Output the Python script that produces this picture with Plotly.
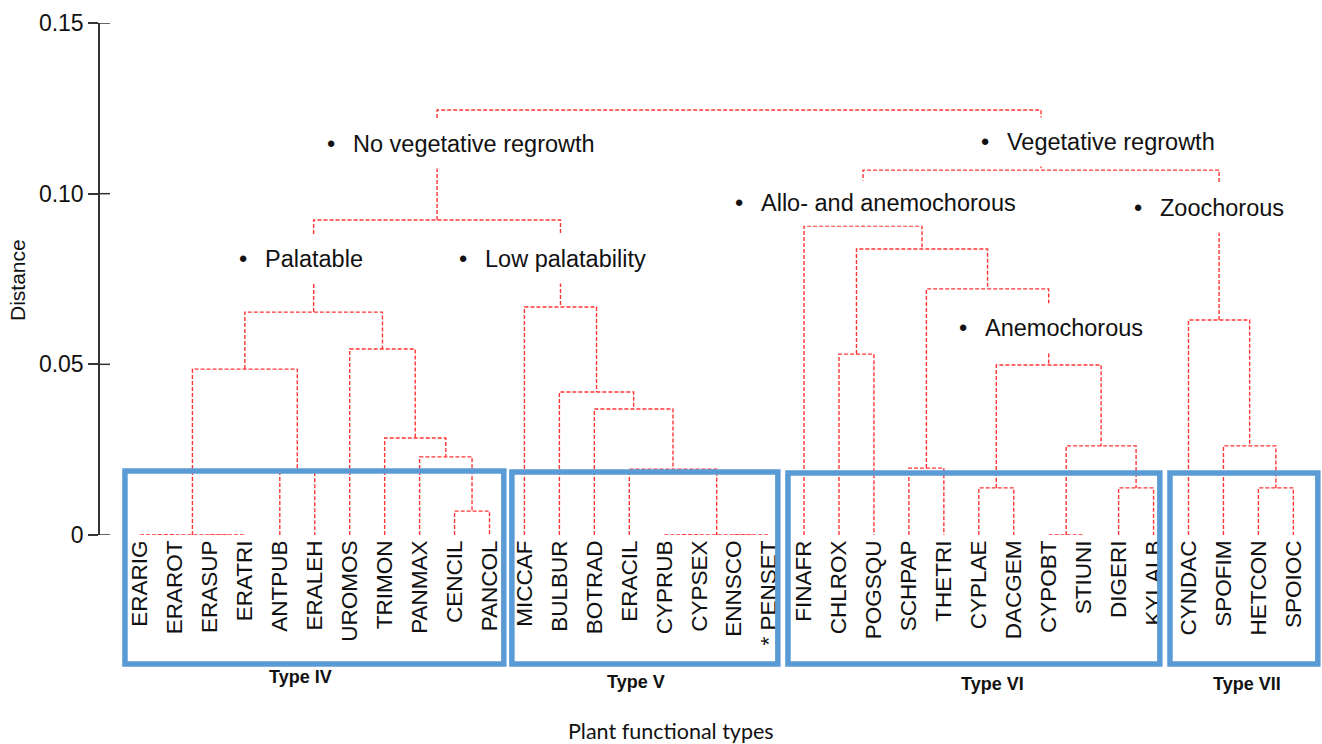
import plotly.graph_objects as go

# Leaf order along the x axis
leaves = [
    "ERARIG", "ERAROT", "ERASUP", "ERATRI", "ANTPUB", "ERALEH", "UROMOS",
    "TRIMON", "PANMAX", "CENCIL", "PANCOL",
    "MICCAF", "BULBUR", "BOTRAD", "ERACIL", "CYPRUB", "CYPSEX", "ENNSCO", "PENSET",
    "FINAFR", "CHLROX", "POGSQU", "SCHPAP", "THETRI", "CYPLAE", "DACGEM",
    "CYPOBT", "STIUNI", "DIGERI", "KYLALB",
    "CYNDAC", "SPOFIM", "HETCON", "SPOIOC",
]
leaf_labels = [("* " + n if n == "PENSET" else n) for n in leaves]

# Agglomeration steps: (cluster name, left child, right child, merge distance)
merges = [
    ("a1", "ERARIG", "ERAROT", 0.0),
    ("a2", "ERASUP", "ERATRI", 0.0),
    ("a", "a1", "a2", 0.0),
    ("b", "ANTPUB", "ERALEH", 0.0190),
    ("ab", "a", "b", 0.0486),
    ("c1", "CENCIL", "PANCOL", 0.0070),
    ("c2", "PANMAX", "c1", 0.0229),
    ("c3", "TRIMON", "c2", 0.0284),
    ("c4", "UROMOS", "c3", 0.0545),
    ("IV", "ab", "c4", 0.0653),
    ("d1", "CYPRUB", "CYPSEX", 0.0),
    ("d2", "ENNSCO", "PENSET", 0.0),
    ("d3", "d1", "d2", 0.0),
    ("d4", "ERACIL", "d3", 0.0193),
    ("d5", "BOTRAD", "d4", 0.0369),
    ("d6", "BULBUR", "d5", 0.0419),
    ("V", "MICCAF", "d6", 0.0668),
    ("noveg", "IV", "V", 0.0923),
    ("e1", "CHLROX", "POGSQU", 0.0530),
    ("e2", "SCHPAP", "THETRI", 0.0196),
    ("e3", "CYPLAE", "DACGEM", 0.0138),
    ("e4", "CYPOBT", "STIUNI", 0.0),
    ("e5", "DIGERI", "KYLALB", 0.0138),
    ("e6", "e4", "e5", 0.0261),
    ("anemo", "e3", "e6", 0.0498),
    ("e7", "e2", "anemo", 0.0721),
    ("e8", "e1", "e7", 0.0838),
    ("VI", "FINAFR", "e8", 0.0905),
    ("f1", "HETCON", "SPOIOC", 0.0138),
    ("f2", "SPOFIM", "f1", 0.0261),
    ("VII", "CYNDAC", "f2", 0.0630),
    ("veg", "VI", "VII", 0.1069),
    ("root", "noveg", "veg", 0.1245),
]

# Functional-type groups (first leaf, last leaf, label)
groups = [
    ("ERARIG", "PANCOL", "Type IV"),
    ("MICCAF", "PENSET", "Type V"),
    ("FINAFR", "KYLALB", "Type VI"),
    ("CYNDAC", "SPOIOC", "Type VII"),
]

# Branch annotations (text, node)
branch_notes = [
    ("No vegetative regrowth", "noveg"),
    ("Palatable", "IV"),
    ("Low palatability", "V"),
    ("Vegetative regrowth", "veg"),
    ("Allo- and anemochorous", "VI"),
    ("Zoochorous", "VII"),
    ("Anemochorous", "anemo"),
]

y_ticks = [0, 0.05, 0.10, 0.15]
y_ticktext = ["0", "0.05", "0.10", "0.15"]

# ---- build the dendrogram polyline ----
pos = {n: i for i, n in enumerate(leaves)}
hgt = {n: 0.0 for n in leaves}
xs, ys = [], []
for name, left, right, h in merges:
    xl, xr = pos[left], pos[right]
    xs += [xl, xl, xr, xr, None]
    ys += [hgt[left], h, h, hgt[right], None]
    pos[name] = (xl + xr) / 2
    hgt[name] = h

FONT = "Arial, Liberation Sans, sans-serif"
PX_L, PX_R, PX_T, PX_B = 100, 1322, 23, 535


def fx(px):
    return (px - PX_L) / (PX_R - PX_L)


def fy(py):
    return (PX_B - py) / (PX_B - PX_T)


fig = go.Figure()
fig.add_trace(go.Scatter(
    x=xs, y=ys, mode="lines",
    line=dict(color="#ff3535", width=1.4, dash="4px,2px"),
    hoverinfo="skip", showlegend=False,
))

# group frames: (left pad, right pad) in leaf units, top edge px, label centre px
frame_pad = {"Type IV": (-0.43, 0.41), "Type V": (-0.36, 0.25),
             "Type VI": (-0.46, 0.18), "Type VII": (-0.53, 0.70)}
frame_top = {"Type IV": 471, "Type V": 472, "Type VI": 473, "Type VII": 473}
label_xy = {"Type IV": (300, 677), "Type V": (636, 682),
            "Type VI": (992, 684), "Type VII": (1247, 684)}
shapes = []
annotations = []
for first, last, label in groups:
    pl, pr = frame_pad[label]
    x0, x1 = pos[first] + pl, pos[last] + pr
    shapes.append(dict(
        type="rect", xref="x", yref="paper", x0=x0, x1=x1,
        y0=fy(664), y1=fy(frame_top[label]),
        line=dict(color="#5b9bd5", width=5.5), layer="above",
    ))
    lx, ly = label_xy[label]
    annotations.append(dict(
        x=fx(lx), y=fy(ly), xref="paper", yref="paper",
        text="<b>%s</b>" % label, showarrow=False,
        font=dict(family=FONT, size=18, color="#111"),
        xanchor="center", yanchor="middle",
    ))

# inner half of the crossing y ticks
for v in y_ticks:
    shapes.append(dict(
        type="line", xref="paper", xsizemode="pixel", xanchor=0,
        x0=0, x1=10, yref="y", y0=v, y1=v,
        line=dict(color="#333", width=1.5), layer="above",
    ))

# branch labels, with a white backing that interrupts the branch lines
# (left edge of the bullet, vertical centre, backing height) in pixels
note_px = {
    "No vegetative regrowth": (326, 144, 48),
    "Palatable": (238, 259, 48),
    "Low palatability": (458, 259, 48),
    "Vegetative regrowth": (980, 142, 48),
    "Allo- and anemochorous": (734, 203, 44),
    "Zoochorous": (1133, 208, 48),
    "Anemochorous": (958, 328, 48),
}
for text, node in branch_notes:
    px, py, hbox = note_px[text]
    annotations.append(dict(
        x=fx(px), y=fy(py), xref="paper", yref="paper",
        text="\u2022\u00a0\u00a0\u2009" + text, showarrow=False,
        font=dict(family=FONT, size=23.5, color="#111"),
        xanchor="left", yanchor="middle", bgcolor="white",
        height=hbox, valign="middle", borderpad=0,
    ))

annotations.append(dict(
    x=fx(17), y=fy(280), xref="paper", yref="paper", text="Distance",
    textangle=-90, showarrow=False, font=dict(family=FONT, size=21, color="#111"),
    xanchor="center", yanchor="middle",
))
annotations.append(dict(
    x=fx(671), y=fy(731), xref="paper", yref="paper",
    text="Plant functional types", showarrow=False,
    font=dict(family="Lato, Carlito, sans-serif", size=21.5, color="#111"),
    xanchor="center", yanchor="middle",
))

fig.update_layout(
    width=1322, height=744,
    margin=dict(l=PX_L, r=1322 - PX_R, t=PX_T, b=744 - PX_B, autoexpand=False),
    paper_bgcolor="white", plot_bgcolor="white",
    shapes=shapes, annotations=annotations,
    xaxis=dict(
        range=[-40 / 34.95, 1182 / 34.95], tickmode="array",
        tickvals=list(range(len(leaves))), ticktext=leaf_labels,
        tickangle=-90, ticks="", showline=False, showgrid=False, zeroline=False,
        tickfont=dict(family=FONT, size=22.5, color="#111"),
    ),
    yaxis=dict(
        range=[0, 0.15], tickmode="array", tickvals=y_ticks, ticktext=y_ticktext,
        ticks="outside", ticklen=10, tickwidth=1.5, tickcolor="#333",
        showline=True, linecolor="#333", linewidth=1.5,
        showgrid=False, zeroline=False,
        tickfont=dict(family=FONT, size=23, color="#111"),
    ),
)

fig.write_html("out.html")
